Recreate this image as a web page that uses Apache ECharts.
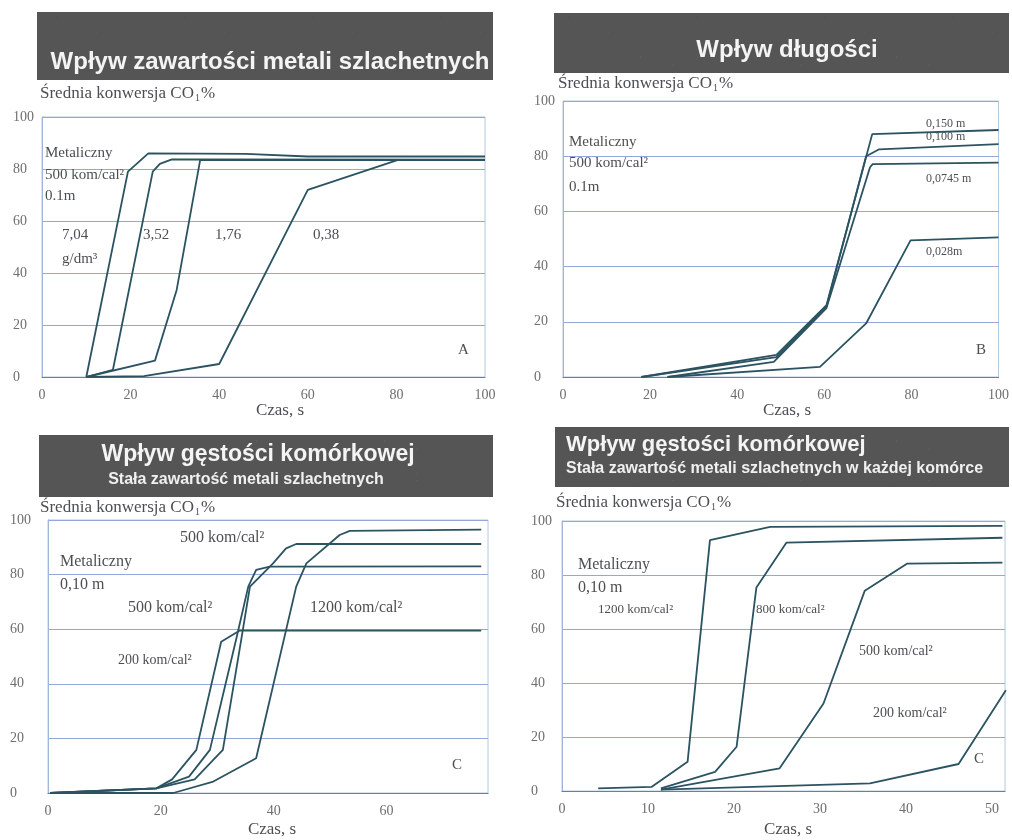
<!DOCTYPE html>
<html>
<head>
<meta charset="utf-8">
<script src="https://cdn.jsdelivr.net/npm/echarts@6/dist/echarts.min.js"></script>
<style>
  html, body { margin: 0; padding: 0; background: #ffffff; }
  #chart { width: 1012px; height: 840px; }
</style>
</head>
<body>
<div id="chart"></div>
<script>
// ---------- data: [time s, mean CO conversion %] ----------
// Panel A: effect of noble-metal loading (metallic substrate, 500 cells/in², 0.1 m)
const aLoad704 = [[10, 0], [19.4, 79], [24, 86], [46, 85.8], [60, 84.8], [100, 84.8]];
const aLoad352 = [[10, 0], [16, 2.7], [25, 79], [26.6, 82], [29.3, 83.7], [100, 83.6]];
const aLoad176 = [[10, 0], [25.5, 6.3], [30.4, 33.5], [35.7, 83.4], [100, 83.4]];
const aLoad038 = [[10, 0], [23, 0.3], [40, 5], [60, 72], [80.4, 83.5], [100, 83.5]];

// Panel B: effect of substrate length
const bLen150 = [[18, 0], [49, 8], [60.5, 26], [71, 88], [100, 89.5]];
const bLen100 = [[18, 0], [49, 7.2], [60.5, 25.5], [69.6, 80], [72.6, 82.5], [100, 84.4]];
const bLen0745 = [[24, 0], [48.4, 5.5], [60.5, 25], [70.5, 76], [71.1, 77.1], [100, 77.7]];
const bLen028 = [[24, 0], [59, 3.7], [69.6, 19.4], [79.8, 49.5], [100, 50.6]];

// Panel C: effect of cell density, constant noble-metal content
const cDens200 = [[0.4, 0], [19.2, 1.7], [22, 5], [26.3, 15.8], [30.7, 55.4], [34, 59.5], [76.8, 59.5]];
const cDens500a = [[0.4, 0], [19.2, 1.7], [25, 6], [28.7, 15.8], [33.4, 56.7], [35.5, 75.6], [36.9, 81.7], [39.3, 82.9], [76.8, 83]];
const cDens500b = [[0.4, 0], [19.2, 1.7], [26, 5], [31, 15.8], [34.3, 56.7], [35.8, 75.6], [39.9, 84.1], [42.2, 89.6], [44, 91.2], [76.8, 91.2]];
const cDens1200 = [[0.4, 0], [22.2, 0], [29.3, 4.2], [36.9, 12.7], [44, 75.6], [45.8, 84.1], [51.7, 94.5], [53.5, 96], [76.8, 96.5]];

// Panel D: effect of cell density, constant noble metal in each cell
const dDens1200 = [[4.2, 1], [10.4, 1.5], [14.6, 10.8], [17.2, 92.9], [24.2, 97.8], [51.2, 98.2]];
const dDens800 = [[11.5, 1], [17.8, 7.1], [20.3, 16.4], [22.6, 75.4], [26.1, 92], [51.2, 93.8]];
const dDens500 = [[11.5, 0.5], [25.3, 8.4], [30.4, 32.4], [35.2, 74.2], [40.1, 84.2], [51.2, 84.6]];
const dDens200 = [[11.5, 0.5], [35.8, 2.8], [46.1, 10], [51.6, 37.3]];

// tick values
const ticksPct = [0, 20, 40, 60, 80, 100];
const ticksA = [0, 20, 40, 60, 80, 100];
const ticksB = [0, 20, 40, 60, 80, 100];
const ticksC = [0, 20, 40, 60];
const ticksD = [0, 10, 20, 30, 40, 50];

// texts
const titles = [
  'Wpływ zawartości metali szlachetnych',
  'Wpływ długości',
  'Wpływ gęstości komórkowej',
  'Wpływ gęstości komórkowej'
];
const subtitles = ['', '', 'Stała zawartość metali szlachetnych', 'Stała zawartość metali szlachetnych w każdej komórce'];
const yTitle = '{a|Średnia konwersja CO}{s|1}{a|%}';
const xTitle = 'Czas, s';

// ---------- layout ----------
const SERIF = '"Liberation Serif", "DejaVu Serif", serif';
const SANS = '"Liberation Sans", Arial, sans-serif';
const INK = '#4c4f52';
const LINE = '#2b5361';

const grids = [
  { left: 42, top: 117, width: 443, height: 260 },
  { left: 563, top: 101, width: 440, height: 276 },
  { left: 48, top: 520, width: 440, height: 273 },
  { left: 562, top: 521, width: 443, height: 270 }
];
const xMax = [100, 100, 78, 51.5];
const xTicks = [ticksA, ticksB, ticksC, ticksD];
const yLabelMargin = [29, 29, 38, 31];

// banner texture: fine, low-contrast grain on a small tiled canvas
function grain() {
  const cv = document.createElement('canvas');
  cv.width = 128; cv.height = 128;
  const g = cv.getContext('2d');
  g.fillStyle = '#555555';
  g.fillRect(0, 0, 128, 128);
  let s = 98765;
  for (let i = 0; i < 6000; i++) {
    s = (s * 1103515245 + 12345) & 0x7fffffff;
    const x = s % 128;
    s = (s * 1103515245 + 12345) & 0x7fffffff;
    const y = s % 128;
    s = (s * 1103515245 + 12345) & 0x7fffffff;
    const v = 74 + (s % 26);
    g.fillStyle = 'rgb(' + v + ',' + v + ',' + v + ')';
    g.fillRect(x, y, 1, 1);
  }
  return cv;
}
const tex = grain();

const banners = [
  { x: 37, y: 12, w: 456, h: 68, tx: 270, ty: 62, size: 24 },
  { x: 554, y: 13, w: 455, h: 60, tx: 787, ty: 50, size: 24 },
  { x: 39, y: 435, w: 454, h: 62, tx: 258, ty: 455, sx: 246, sy: 480, align: 'center', size: 23, subSize: 16 },
  { x: 555, y: 427, w: 454, h: 60, tx: 566, ty: 445, sx: 566, sy: 469, align: 'left', size: 22, subSize: 16 }
];

const yTitlePos = [[40, 94], [558, 84], [40, 508], [556, 503]];
const xTitlePos = [[280, 411], [787, 411], [272, 830], [788, 830]];

// free annotations: [pixel x, pixel y, text, font size]
const notes = [
  [45, 153, 'Metaliczny', 15], [45, 175, '500 kom/cal²', 15], [45, 196, '0.1m', 15],
  [62, 235, '7,04', 15], [62, 259, 'g/dm³', 15], [143, 235, '3,52', 15],
  [215, 235, '1,76', 15], [313, 235, '0,38', 15], [458, 350, 'A', 15],

  [569, 142, 'Metaliczny', 15], [569, 163, '500 kom/cal²', 15], [569, 187, '0.1m', 15],
  [926, 124, '0,150 m', 12], [926, 137, '0,100 m', 12], [926, 179, '0,0745 m', 12],
  [926, 252, '0,028m', 12], [976, 350, 'B', 15],

  [180, 538, '500 kom/cal²', 16], [60, 562, 'Metaliczny', 16], [60, 585, '0,10 m', 16],
  [128, 608, '500 kom/cal²', 16], [310, 608, '1200 kom/cal²', 16], [118, 660, '200 kom/cal²', 14],
  [452, 765, 'C', 15],

  [578, 565, 'Metaliczny', 16], [578, 588, '0,10 m', 16], [598, 610, '1200 kom/cal²', 13],
  [756, 610, '800 kom/cal²', 13], [859, 651, '500 kom/cal²', 14], [873, 713, '200 kom/cal²', 14],
  [974, 759, 'C', 15]
];

// ---------- option ----------
const chart = echarts.init(document.getElementById('chart'), null, { renderer: 'canvas' });

const option = {
  backgroundColor: '#ffffff',
  animation: false,
  grid: grids.map(g => Object.assign({ show: true, borderColor: '#b3c8df', borderWidth: 1, backgroundColor: 'transparent' }, g)),
  xAxis: grids.map((g, i) => ({
    gridIndex: i, type: 'value', min: 0, max: xMax[i], interval: xTicks[i][1] - xTicks[i][0],
    axisLine: { show: true, lineStyle: { color: '#5f7cc4', width: 1.2 } },
    axisTick: { show: false },
    splitLine: { show: false },
    axisLabel: {
      color: '#6e6e6e', fontFamily: SERIF, fontSize: 14, margin: 11,
      showMaxLabel: xMax[i] === xTicks[i][xTicks[i].length - 1],
      formatter: v => (xTicks[i].indexOf(v) >= 0 ? String(v) : '')
    }
  })),
  yAxis: grids.map((g, i) => ({
    gridIndex: i, type: 'value', min: ticksPct[0], max: ticksPct[ticksPct.length - 1], interval: ticksPct[1] - ticksPct[0],
    axisLine: { show: true, lineStyle: { color: '#9fb6d8', width: 1 } },
    axisTick: { show: false },
    splitLine: { show: true, lineStyle: { color: '#97a6da', width: 1 } },
    axisLabel: { color: '#6e6e6e', fontFamily: SERIF, fontSize: 14, margin: yLabelMargin[i], align: 'left', verticalAlign: 'middle' }
  })),
  series: [
    [aLoad704, 0], [aLoad352, 0], [aLoad176, 0], [aLoad038, 0],
    [bLen150, 1], [bLen100, 1], [bLen0745, 1], [bLen028, 1],
    [cDens200, 2], [cDens500a, 2], [cDens500b, 2], [cDens1200, 2],
    [dDens1200, 3], [dDens800, 3], [dDens500, 3], [dDens200, 3]
  ].map(([d, i]) => ({
    type: 'line', xAxisIndex: i, yAxisIndex: i, data: d,
    symbol: 'none', silent: true,
    lineStyle: { color: LINE, width: 1.8 }
  })),
  graphic: []
};

banners.forEach((b, i) => {
  option.graphic.push({
    type: 'rect', shape: { x: b.x, y: b.y, width: b.w, height: b.h },
    style: { fill: { image: tex, repeat: 'repeat' } }, silent: true
  });
  option.graphic.push({
    type: 'text', x: b.tx, y: b.ty, silent: true,
    style: {
      text: titles[i], fill: '#f4f4f4', font: 'bold ' + b.size + 'px ' + SANS,
      align: b.align || 'center', verticalAlign: 'middle'
    }
  });
  if (subtitles[i]) {
    option.graphic.push({
      type: 'text', x: b.sx, y: b.sy, silent: true,
      style: {
        text: subtitles[i], fill: '#f0f0f0', font: 'bold ' + b.subSize + 'px ' + SANS,
        align: b.align || 'center', verticalAlign: 'middle'
      }
    });
  }
});

yTitlePos.forEach(p => {
  option.graphic.push({
    type: 'text', x: p[0], y: p[1], silent: true,
    style: {
      text: yTitle, align: 'left', verticalAlign: 'middle',
      rich: {
        a: { fontFamily: SERIF, fontSize: 17, fill: INK, color: INK, lineHeight: 20 },
        s: { fontFamily: SERIF, fontSize: 10, fill: INK, color: INK, lineHeight: 12, padding: [9, 1, 0, 1] }
      }
    }
  });
});

xTitlePos.forEach(p => {
  option.graphic.push({
    type: 'text', x: p[0], y: p[1], silent: true,
    style: { text: xTitle, font: '17px ' + SERIF, fill: INK, align: 'center', verticalAlign: 'middle' }
  });
});

notes.forEach(n => {
  option.graphic.push({
    type: 'text', x: n[0], y: n[1], silent: true, z: 10,
    style: { text: n[2], font: n[3] + 'px ' + SERIF, fill: INK, align: 'left', verticalAlign: 'middle' }
  });
});

chart.setOption(option);
</script>
</body>
</html>
